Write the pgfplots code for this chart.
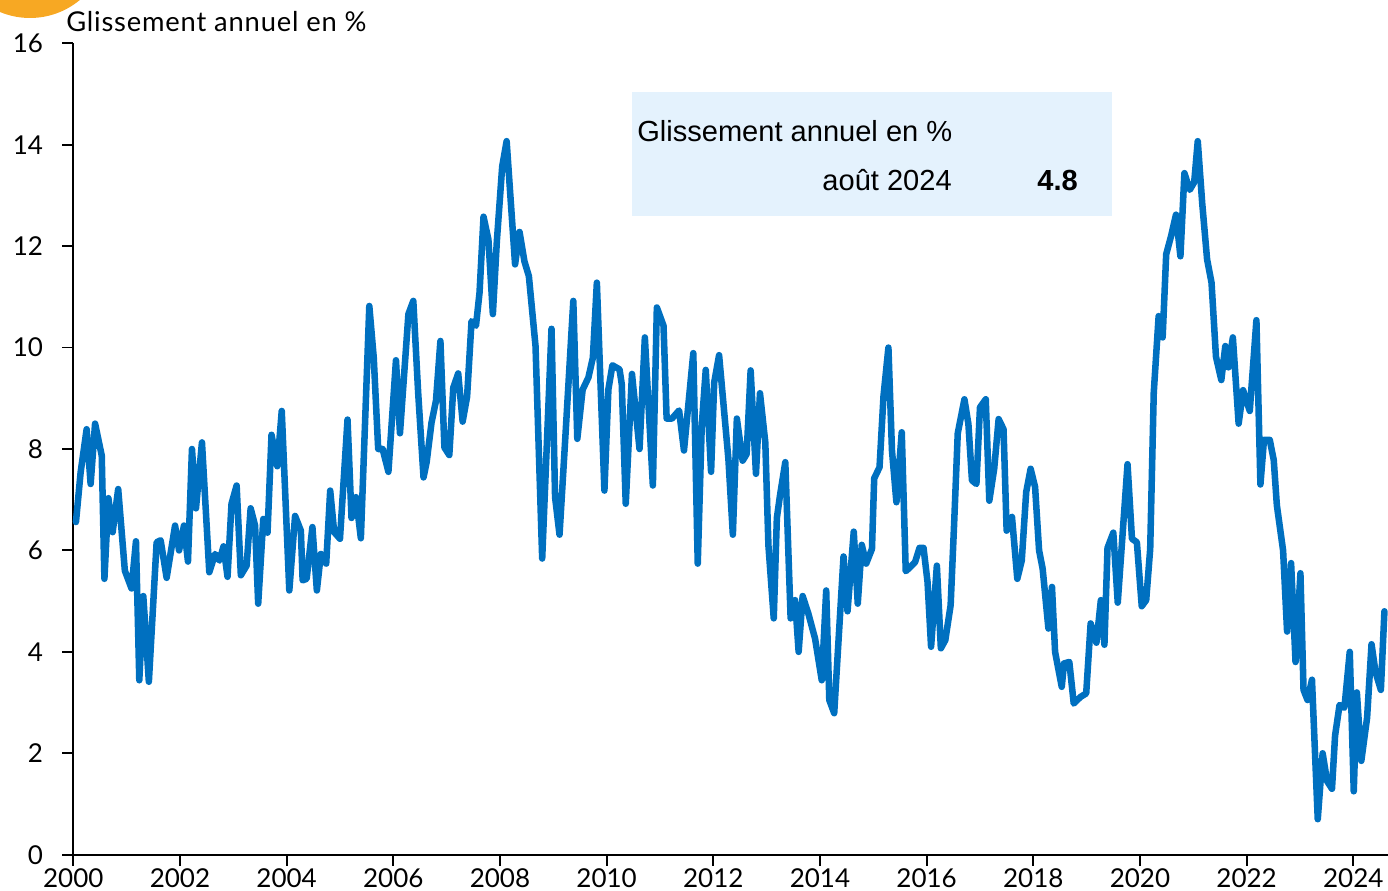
\documentclass[border=0pt]{standalone}
\usepackage{fontspec}
\setmainfont{Lato}
\newfontfamily\arial{Liberation Sans}
\newfontfamily\widelato[LetterSpace=3]{Lato}
\usepackage{pgfplots}
\pgfplotsset{compat=1.18}
\usepackage{pgfplotstable}
\definecolor{lineblue}{HTML}{0070C0}
\definecolor{boxblue}{HTML}{E4F2FD}
\definecolor{sunorange}{HTML}{F7A823}

% m = months since January 2000, v = year-on-year change in %
\pgfplotstableread{
m v
0.6 6.56
1.65 7.54
3.0 8.39
3.9 7.31
4.9 8.5
6.4 7.87
7.0 5.44
7.9 7.03
8.85 6.36
10.1 7.21
11.6 5.6
13.1 5.25
14.1 6.18
14.85 3.44
15.75 5.1
17.0 3.41
18.75 6.16
19.65 6.2
21.0 5.46
22.9 6.49
23.8 6.0
24.9 6.49
25.8 5.78
26.7 8.0
27.6 6.83
28.95 8.13
30.6 5.57
31.9 5.93
32.9 5.8
33.8 6.08
34.7 5.48
35.6 6.92
36.75 7.28
37.7 5.51
39.0 5.7
39.9 6.83
40.9 6.49
41.6 4.95
42.75 6.62
43.7 6.35
44.6 8.28
45.9 7.66
46.9 8.75
48.6 5.21
49.9 6.68
51.2 6.39
51.6 5.41
52.5 5.44
53.8 6.46
54.8 5.21
55.7 5.93
56.9 5.74
57.8 7.18
58.7 6.36
60.0 6.23
61.7 8.58
62.6 6.64
63.6 7.05
64.7 6.24
66.6 10.82
67.6 9.8
68.6 8.0
69.6 8.0
70.9 7.55
72.6 9.75
73.5 8.31
75.4 10.66
76.5 10.92
77.6 9.1
78.8 7.44
79.5 7.74
80.6 8.52
81.6 8.95
82.6 10.13
83.5 8.03
84.6 7.88
85.5 9.21
86.6 9.49
87.6 8.54
88.6 9.03
89.6 10.52
90.6 10.43
91.4 11.08
92.3 12.58
93.4 12.13
94.4 10.66
95.3 12.1
96.5 13.57
97.5 14.07
99.4 11.64
100.4 12.28
101.5 11.70
102.5 11.41
104.0 10.03
105.5 5.84
107.6 10.37
108.4 7.05
109.4 6.31
110.6 8.07
112.5 10.92
113.4 8.2
114.6 9.17
115.9 9.41
116.9 9.8
117.8 11.28
119.5 7.18
120.4 9.18
121.3 9.65
122.9 9.57
123.4 9.28
124.3 6.92
125.7 9.48
127.4 8.0
128.6 10.2
130.4 7.28
131.3 10.79
132.8 10.43
133.5 8.6
134.7 8.6
136.3 8.76
137.4 7.97
139.5 9.89
140.5 5.74
141.4 8.46
142.3 9.56
143.5 7.55
144.2 9.31
145.3 9.85
147.4 7.8
148.4 6.31
149.3 8.6
150.6 7.77
151.5 7.9
152.4 9.55
153.6 7.51
154.5 9.1
155.7 8.13
156.4 6.1
157.6 4.66
158.3 6.64
159.0 7.08
160.2 7.74
161.4 4.66
162.4 5.02
163.2 4.0
164.1 5.1
165.4 4.75
166.9 4.26
168.4 3.44
169.4 5.21
170.1 3.05
171.2 2.79
173.3 5.88
174.2 4.8
175.6 6.37
176.5 4.95
177.4 6.11
178.4 5.74
179.7 6.03
180.2 7.42
181.4 7.64
182.3 9.05
183.4 10.0
184.2 7.97
185.2 6.95
186.4 8.33
187.3 5.59
188.3 5.67
189.4 5.77
190.4 6.05
191.3 6.05
192.2 5.38
193.0 4.1
194.3 5.7
195.2 4.07
196.2 4.23
197.4 4.92
198.2 6.56
199.0 8.31
200.5 8.98
201.4 8.49
202.2 7.38
203.2 7.31
204.0 8.82
205.3 8.98
206.1 6.98
207.2 7.61
208.2 8.59
209.3 8.39
210.0 6.39
211.2 6.66
212.4 5.44
213.4 5.8
214.4 7.15
215.4 7.61
216.4 7.25
217.3 6.0
218.1 5.64
219.4 4.46
220.2 5.28
220.9 4.0
222.4 3.31
222.9 3.77
224.1 3.8
225.1 2.98
226.6 3.11
227.9 3.18
228.9 4.56
230.2 4.18
231.2 5.02
232.0 4.14
232.7 6.05
234.0 6.35
235.0 4.97
237.2 7.7
238.2 6.23
239.3 6.16
240.4 4.9
241.4 5.02
242.3 6.03
243.1 9.11
244.2 10.62
245.1 10.2
245.9 11.84
247.0 12.2
248.1 12.62
249.1 11.8
250.0 13.44
251.2 13.11
252.2 13.26
253.0 14.07
254.0 12.85
255.1 11.74
256.1 11.28
257.1 9.82
258.3 9.36
259.2 10.03
259.9 9.61
260.9 10.2
262.2 8.5
263.2 9.16
264.7 8.75
266.2 10.54
267.1 7.3
267.9 8.18
269.2 8.18
270.1 7.78
270.8 6.89
272.2 6.0
273.1 4.4
274.0 5.75
275.0 3.8
276.1 5.55
276.8 3.25
277.7 3.05
278.7 3.45
280.0 0.7
281.1 2.0
282.1 1.45
283.2 1.3
283.9 2.35
284.9 2.95
286.0 2.9
287.2 4.0
288.1 1.25
288.8 3.2
289.8 1.85
291.1 2.7
292.1 4.15
293.0 3.6
294.2 3.25
295.0 4.8
}\inflation

\begin{document}
\begin{tikzpicture}
\begin{axis}[
  at={(0pt,0pt)}, anchor=south west,
  scale only axis, width=986pt, height=608.55pt,
  xmin=0, xmax=295.8, ymin=0, ymax=16,
  axis x line=bottom, axis y line=left,
  axis line style={-, line width=1.4pt, black},
  xtick={0,24,...,288},
  xticklabels={2000,2002,2004,2006,2008,2010,2012,2014,2016,2018,2020,2022,2024},
  ytick={0,2,...,16},
  tick align=outside,
  major tick length=8.25pt,
  tick style={line width=1.4pt, black},
  tick label style={font=\fontsize{19.5}{21}\selectfont},
  yticklabel style={xshift=-11pt},
  xticklabel style={yshift=1pt},
  /pgf/number format/assume math mode=true,
  clip=false,
]
\addplot[lineblue, line width=4.9pt, line join=round, line cap=round] table[x=m,y=v] {\inflation};
\end{axis}
\begin{scope}[x=0.75pt, y=-0.75pt, shift={(-54.975pt,641.025pt)}]
  \begin{scope}
    \clip (0,0) rectangle (1388,891);
    \fill[sunorange] (30,-60) circle[radius=58.5pt];
  \end{scope}
  \fill[boxblue] (632,92) rectangle (1112,216);
  \node[anchor=base west, inner sep=0pt, font=\arial\fontsize{21.8}{23}\selectfont] at (637,142) {Glissement annuel en \%};
  \node[anchor=base east, inner sep=0pt, font=\arial\fontsize{21.8}{23}\selectfont] at (952,191) {août 2024};
  \node[anchor=base east, inner sep=0pt, font=\arial\bfseries\fontsize{21.8}{23}\selectfont] at (1078,191) {4.8};
  \node[anchor=base west, inner sep=0pt, font=\widelato\fontsize{20.5}{22}\selectfont] at (66,32) {Glissement annuel en \%};
  \pgfresetboundingbox
  \path[use as bounding box] (0,0) rectangle (1388,891);
\end{scope}
\end{tikzpicture}
\end{document}
